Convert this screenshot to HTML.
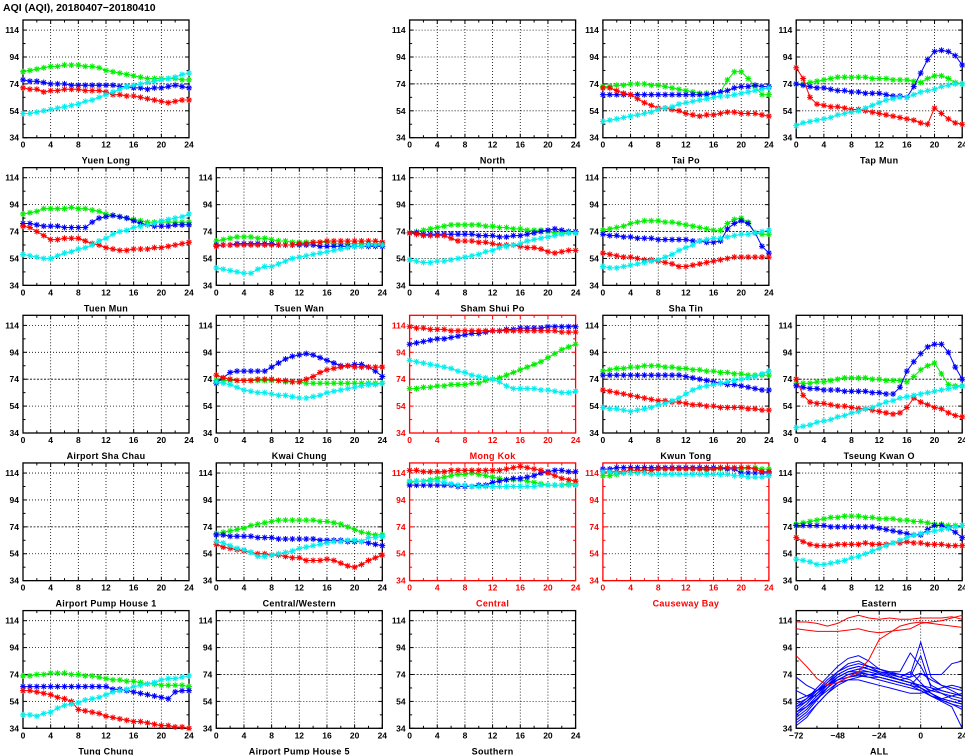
<!DOCTYPE html>
<html><head><meta charset="utf-8"><style>
html,body{margin:0;padding:0;background:#fff;}
svg{display:block;font-family:"Liberation Sans",sans-serif;font-weight:bold;}
</style></head><body>
<svg id="chart" width="965" height="755" viewBox="0 0 965 755" xmlns="http://www.w3.org/2000/svg">
<text x="3" y="11" font-size="10.5">AQI (AQI), 20180407−20180410</text>
</svg>
<script>
const hours = [0,1,2,3,4,5,6,7,8,9,10,11,12,13,14,15,16,17,18,19,20,21,22,23,24];
const yTicks = [34,54,74,94,114];
const xTicks = [0,4,8,12,16,20,24];
const allXTicks = [-72,-48,-24,0,24];
const allHours = [-72,-66,-60,-54,-48,-42,-36,-30,-24,-18,-12,-6,0,6,12,18,24];

const yuenLongGreen=[83,84,85,86,87,87,88,88,88,87,87,86,84,83,82,81,80,79,78,78,78,78,78,77,77];
const yuenLongBlue=[77,76,76,75,74,74,74,73,73,73,73,73,73,73,72,72,71,71,70,71,71,72,73,72,71];
const yuenLongRed=[71,70,70,68,69,69,70,70,70,69,69,69,68,66,66,65,65,64,63,62,61,60,61,62,62];
const yuenLongCyan=[52,52,53,54,55,56,57,58,59,61,62,64,66,68,70,72,73,74,75,76,77,78,79,81,82];

const taiPoGreen=[72,72,73,73,74,74,74,73,73,72,71,70,69,68,67,67,67,68,77,83,83,78,72,66,66];
const taiPoBlue=[66,66,66,66,66,66,66,66,66,66,66,66,66,66,66,66,67,68,69,71,72,72,73,72,72];
const taiPoRed=[71,71,69,67,66,63,60,58,56,56,55,54,52,51,50,51,51,52,53,53,52,52,52,51,50];
const taiPoCyan=[46,47,48,49,50,51,52,53,55,56,57,59,60,61,62,63,64,65,65,66,67,68,69,70,71];

const tapMunGreen=[74,74,75,76,77,78,79,79,79,79,79,78,78,78,77,77,77,76,75,78,80,80,78,75,74];
const tapMunBlue=[74,73,72,71,71,70,69,69,68,68,67,67,67,66,65,65,64,72,82,92,98,99,98,95,88];
const tapMunRed=[86,78,64,59,58,57,57,56,55,55,54,53,52,51,50,49,48,47,45,44,56,52,48,45,44];
const tapMunCyan=[43,45,46,47,48,49,51,52,53,54,56,58,60,62,63,64,64,66,68,69,70,72,73,74,74];

const tuenMunGreen=[87,88,89,91,91,91,91,92,91,91,90,89,87,86,85,84,83,82,81,81,81,81,81,81,81];
const tuenMunBlue=[80,80,79,78,78,78,77,77,77,77,81,84,85,86,85,84,82,80,79,78,78,78,79,79,79];
const tuenMunRed=[78,77,74,71,68,68,69,69,69,67,65,64,62,61,60,60,61,61,61,62,62,63,64,65,66];
const tuenMunCyan=[57,56,55,54,54,56,58,59,61,62,64,67,69,72,74,75,77,78,79,80,82,83,84,85,87];

const tsuenWanGreen=[67,68,69,70,70,70,69,69,68,67,67,66,66,66,66,66,66,65,65,65,65,65,65,65,65];
const tsuenWanBlue=[64,64,64,65,65,65,65,65,65,64,64,64,64,64,64,63,63,63,63,63,63,63,63,63,63];
const tsuenWanRed=[63,64,64,64,64,64,64,64,64,64,64,64,65,65,66,66,67,67,67,67,67,67,67,67,66];
const tsuenWanCyan=[47,46,45,44,43,43,46,48,48,50,52,54,55,56,57,58,59,60,61,62,63,63,64,64,64];

const shamShuiPoGreen=[73,74,75,76,77,78,79,79,79,79,79,78,78,77,77,76,76,75,75,75,74,73,73,73,73];
const shamShuiPoBlue=[73,73,72,72,72,72,72,72,72,72,71,71,71,70,70,71,71,72,73,74,75,76,75,74,74];
const shamShuiPoRed=[73,72,71,71,71,71,69,67,67,67,66,66,65,64,64,64,63,62,62,61,59,58,59,60,60];
const shamShuiPoCyan=[53,52,51,51,52,52,53,54,55,56,57,59,60,62,63,64,65,67,68,69,70,71,72,73,73];

const shaTinGreen=[75,76,77,78,80,81,82,82,82,81,81,80,79,78,77,76,75,75,80,83,84,81,73,72,72];
const shaTinBlue=[72,71,71,70,70,69,69,69,68,68,68,68,68,67,67,66,66,67,76,80,82,80,73,63,58];
const shaTinRed=[58,57,56,55,55,54,53,53,52,51,50,48,48,49,50,51,52,53,54,55,55,55,55,55,55];
const shaTinCyan=[48,47,47,48,49,50,51,52,53,55,57,60,62,64,67,68,69,69,70,71,72,72,73,74,75];

const kwaiChungGreen=[73,73,73,73,73,73,73,73,73,73,72,72,72,71,71,71,71,71,71,71,71,71,71,71,71];
const kwaiChungBlue=[71,75,79,80,80,80,80,80,83,86,89,91,92,93,92,90,88,86,84,84,85,85,83,80,76];
const kwaiChungRed=[77,75,74,73,73,73,74,74,74,73,73,72,72,74,76,79,81,82,83,84,83,83,83,83,83];
const kwaiChungCyan=[72,71,70,68,66,65,64,64,63,62,62,61,60,60,61,62,64,65,66,67,68,69,70,70,71];

const mongKokGreen=[67,67,68,68,69,69,70,70,70,71,71,73,74,75,77,79,81,83,85,87,90,93,96,98,100];
const mongKokBlue=[100,101,102,103,104,104,105,106,107,108,108,109,110,110,111,111,112,112,112,112,113,113,113,113,113];
const mongKokRed=[113,112,112,111,111,111,110,110,110,110,110,110,110,110,110,110,110,110,110,110,110,110,109,109,109];
const mongKokCyan=[88,87,86,85,84,83,82,80,79,77,76,75,74,72,69,67,67,67,67,66,66,65,64,64,65];

const kwunTongGreen=[80,81,82,82,83,83,84,84,84,83,83,82,82,81,81,80,80,79,79,78,78,77,77,77,77];
const kwunTongBlue=[77,77,77,77,77,77,77,77,77,77,77,77,76,75,74,73,72,71,70,70,69,68,67,66,66];
const kwunTongRed=[66,65,64,63,62,61,60,59,58,58,57,57,56,55,55,54,54,53,53,53,53,52,52,51,51];
const kwunTongCyan=[53,52,52,51,50,51,52,53,55,56,58,60,63,66,68,69,70,71,72,73,74,75,76,78,80];

const tkoGreen=[71,71,71,72,72,73,74,75,75,75,75,74,74,73,73,73,72,76,81,84,86,78,70,69,69];
const tkoBlue=[69,68,67,67,66,66,66,65,65,65,65,64,64,63,63,68,80,87,93,98,100,100,94,83,74];
const tkoRed=[74,62,57,56,56,55,54,54,53,52,52,51,50,49,48,49,53,60,57,55,53,52,49,47,46];
const tkoCyan=[38,39,40,42,43,44,46,47,49,50,52,53,55,57,58,60,61,62,63,64,65,66,67,68,69];

const centralWesternGreen=[69,70,71,72,73,75,76,77,78,79,79,79,79,79,79,78,78,77,76,74,72,70,69,68,68];
const centralWesternBlue=[68,68,67,67,67,67,66,66,66,65,65,65,65,65,65,64,64,64,64,63,63,63,62,61,60];
const centralWesternRed=[61,59,58,57,56,55,54,54,53,53,52,51,51,49,49,49,50,49,47,45,44,46,49,51,53];
const centralWesternCyan=[63,62,60,58,57,55,52,52,53,54,55,56,58,59,60,61,62,63,63,64,64,63,66,66,67];

const centralGreen=[107,108,108,109,110,111,112,113,113,114,113,112,111,110,109,109,109,108,107,106,105,105,105,106,106];
const centralBlue=[105,105,105,105,105,105,105,104,104,104,105,105,107,108,109,110,110,111,112,114,115,116,116,115,115];
const centralRed=[116,116,115,115,115,115,116,116,116,116,116,116,116,116,117,118,119,118,117,116,114,112,110,109,108];
const centralCyan=[108,108,108,108,108,107,106,105,105,104,104,104,104,104,104,104,104,104,104,105,105,105,105,105,105];

const causewayBayGreen=[112,112,113,114,114,115,116,116,117,117,117,117,117,117,117,116,117,117,117,117,117,118,118,117,117];
const causewayBayBlue=[117,117,118,118,118,118,118,118,118,118,118,118,118,118,118,118,118,118,117,117,114,114,114,114,114];
const causewayBayRed=[115,115,115,115,116,116,116,116,117,117,117,117,117,117,117,117,117,118,118,118,118,118,117,115,115];
const causewayBayCyan=[115,115,114,114,114,114,114,113,113,113,113,113,113,113,113,113,113,113,113,112,112,111,111,111,112];

const easternGreen=[76,77,78,79,80,81,81,82,82,82,81,81,80,80,80,79,79,78,78,77,76,76,75,75,75];
const easternBlue=[75,75,75,75,75,74,74,74,74,74,74,74,73,72,71,70,69,68,68,72,75,75,73,70,66];
const easternRed=[66,63,61,60,60,60,61,61,61,61,62,61,61,61,62,62,63,62,62,61,61,61,60,60,60];
const easternCyan=[50,49,48,46,46,47,48,49,51,52,54,56,58,60,62,64,66,68,69,70,71,72,73,74,75];

const tungChungGreen=[73,73,74,74,75,75,75,74,74,73,73,72,71,70,70,69,69,68,67,67,66,66,66,66,65];
const tungChungBlue=[65,65,65,65,65,65,65,65,65,65,65,65,65,63,63,62,61,60,59,58,57,56,61,62,62];
const tungChungRed=[62,62,61,60,59,57,56,54,48,47,46,45,43,42,41,40,39,39,38,37,36,36,35,35,34];
const tungChungCyan=[44,44,43,45,46,49,51,52,53,55,56,57,59,61,62,63,65,66,67,68,70,71,71,72,73];

const allRed1=[88,80,71,66,68,72,76,85,100,105,110,112,113,112,111,110,109];
const allRed2=[113,113,112,110,112,116,118,116,115,116,115,115,116,116,116,117,115];
const allRed3=[108,107,106,106,106,107,108,106,105,106,107,108,112,113,114,116,118];
const allBlue1=[50,56,64,72,80,86,88,84,78,75,72,70,64,58,55,52,50];
const allBlue2=[46,52,60,68,76,82,84,80,76,74,72,76,68,60,56,54,52];
const allBlue3=[44,50,58,66,74,78,80,78,75,73,70,72,75,70,66,64,62];
const allBlue4=[40,46,55,64,72,76,78,76,74,72,70,68,66,62,60,58,56];
const allBlue5=[36,42,52,60,68,72,74,72,70,68,66,64,62,58,54,50,34];
const allBlue6=[52,56,62,68,74,78,80,78,76,75,74,74,98,72,66,62,58];
const allBlue7=[48,54,62,70,76,80,82,80,78,76,76,90,80,66,62,60,58];
const allBlue8=[72,66,62,66,72,76,76,74,72,70,68,66,74,74,74,82,84];
const allBlue9=[62,58,58,64,70,74,75,74,74,72,70,68,66,64,62,60,58];
const allBlue10=[55,58,62,66,70,72,73,72,72,70,68,66,64,60,55,52,48];
const allBlue11=[42,48,56,64,70,74,76,76,74,72,70,68,64,60,56,54,52];
const allBlue12=[50,54,60,66,72,76,78,80,78,76,74,72,88,64,60,56,54];
const allBlue13=[38,44,52,60,66,70,70,68,66,64,62,60,60,62,64,66,64];
const allBlue14=[46,50,56,62,68,70,72,74,72,70,68,66,62,58,56,58,60];

const NS="http://www.w3.org/2000/svg";
const svg=document.getElementById('chart');
const COLORS={green:'#00ee00',blue:'#0000ff',red:'#ff0000',cyan:'#00eeee'};
const Y_MIN=34, Y_MAX=121.5;

function mk(tag,attrs,parent){const e=document.createElementNS(NS,tag);for(const k in attrs)e.setAttribute(k,attrs[k]);(parent||svg).appendChild(e);return e;}

function panelRect(col,row){return {x:23+col*193.3,y:20+row*147.65,w:166,h:117.7};}

function drawAxes(g,r,xMin,xMax,ticks,minorStep,redFrame,title){
  const col=redFrame?'#ff0000':'#000';
  const sx=v=>r.x+(v-xMin)/(xMax-xMin)*r.w;
  const sy=v=>r.y+r.h-(v-Y_MIN)/(Y_MAX-Y_MIN)*r.h;
  // grid
  ticks.forEach(t=>{ if(t>xMin&&t<xMax){
    const gl=mk('line',{x1:sx(t),x2:sx(t),y1:r.y,y2:r.y+r.h,stroke:'#000','stroke-width':0.8,'stroke-dasharray':'1,2'},g);
    
    
  }});
  yTicks.forEach(t=>{ if(t>Y_MIN){
    const gl=mk('line',{x1:r.x,x2:r.x+r.w,y1:sy(t),y2:sy(t),stroke:'#000','stroke-width':0.8,'stroke-dasharray':t===74?'2,1.5':'1,2'},g);
    
    
  }});
  // minor ticks
  for(let v=xMin;v<=xMax;v+=minorStep){
    const len=ticks.includes(v)?4:2.5;
    mk('line',{x1:sx(v),x2:sx(v),y1:r.y+r.h,y2:r.y+r.h-len,stroke:col,'stroke-width':1},g);
    mk('line',{x1:sx(v),x2:sx(v),y1:r.y,y2:r.y+len,stroke:col,'stroke-width':1},g);
  }
  for(let v=34;v<=114;v+=10){
    const len=(v-34)%20===0?4:2.5;
    mk('line',{x1:r.x,x2:r.x+len,y1:sy(v),y2:sy(v),stroke:col,'stroke-width':1},g);
    mk('line',{x1:r.x+r.w,x2:r.x+r.w-len,y1:sy(v),y2:sy(v),stroke:col,'stroke-width':1},g);
  }
  const fr=mk('rect',{x:r.x,y:r.y,width:r.w,height:r.h,fill:'none',stroke:col,'stroke-width':1.3},g);
  
  
  yTicks.forEach(t=>{
    const tl=mk('text',{x:r.x-4,y:sy(t)+3,'text-anchor':'end','font-size':8.5,fill:col},g);
    tl.textContent=t;
    
    
  });
  ticks.forEach(t=>{
    const tl=mk('text',{x:sx(t),y:r.y+r.h+10,'text-anchor':'middle','font-size':8.5,fill:col},g);
    tl.textContent=(t<0?'−'+(-t):t);
    
    
  });
  const tt=mk('text',{x:r.x+r.w/2,y:r.y+r.h+26,'text-anchor':'middle','font-size':9,fill:col,'letter-spacing':'0.3'},g);
  tt.textContent=title;
  
  
  return {sx,sy};
}

function drawSeries(g,sx,sy,xs,vals,color,name,markers){
  const pts=xs.map((x,i)=>sx(x).toFixed(1)+','+sy(vals[i]).toFixed(1)).join(' ');
  const pl=mk('polyline',{points:pts,fill:'none',stroke:color,'stroke-width':1},g);
  
  
  if(!markers)return;
  let d='';
  xs.forEach((x,i)=>{const px=sx(x),py=sy(vals[i]),s=3;
    d+=`M${px-s},${py}h${2*s}M${px},${py-s}v${2*s}M${px-2.2},${py-2.2}l4.4,4.4M${px-2.2},${py+2.2}l4.4,-4.4`;});
  const m=mk('path',{d:d,stroke:color,'stroke-width':1,fill:'none'},g);
  
  
}

const stations=[
  {c:0,r:0,t:'Yuen Long',s:[yuenLongGreen,yuenLongBlue,yuenLongRed,yuenLongCyan]},
  {c:2,r:0,t:'North',s:null},
  {c:3,r:0,t:'Tai Po',s:[taiPoGreen,taiPoBlue,taiPoRed,taiPoCyan]},
  {c:4,r:0,t:'Tap Mun',s:[tapMunGreen,tapMunBlue,tapMunRed,tapMunCyan]},
  {c:0,r:1,t:'Tuen Mun',s:[tuenMunGreen,tuenMunBlue,tuenMunRed,tuenMunCyan]},
  {c:1,r:1,t:'Tsuen Wan',s:[tsuenWanGreen,tsuenWanBlue,tsuenWanRed,tsuenWanCyan]},
  {c:2,r:1,t:'Sham Shui Po',s:[shamShuiPoGreen,shamShuiPoBlue,shamShuiPoRed,shamShuiPoCyan]},
  {c:3,r:1,t:'Sha Tin',s:[shaTinGreen,shaTinBlue,shaTinRed,shaTinCyan]},
  {c:0,r:2,t:'Airport Sha Chau',s:null},
  {c:1,r:2,t:'Kwai Chung',s:[kwaiChungGreen,kwaiChungBlue,kwaiChungRed,kwaiChungCyan]},
  {c:2,r:2,t:'Mong Kok',red:true,s:[mongKokGreen,mongKokBlue,mongKokRed,mongKokCyan]},
  {c:3,r:2,t:'Kwun Tong',s:[kwunTongGreen,kwunTongBlue,kwunTongRed,kwunTongCyan]},
  {c:4,r:2,t:'Tseung Kwan O',s:[tkoGreen,tkoBlue,tkoRed,tkoCyan]},
  {c:0,r:3,t:'Airport Pump House 1',s:null},
  {c:1,r:3,t:'Central/Western',s:[centralWesternGreen,centralWesternBlue,centralWesternRed,centralWesternCyan]},
  {c:2,r:3,t:'Central',red:true,s:[centralGreen,centralBlue,centralRed,centralCyan]},
  {c:3,r:3,t:'Causeway Bay',red:true,s:[causewayBayGreen,causewayBayBlue,causewayBayRed,causewayBayCyan]},
  {c:4,r:3,t:'Eastern',s:[easternGreen,easternBlue,easternRed,easternCyan]},
  {c:0,r:4,t:'Tung Chung',s:[tungChungGreen,tungChungBlue,tungChungRed,tungChungCyan]},
  {c:1,r:4,t:'Airport Pump House 5',s:null},
  {c:2,r:4,t:'Southern',s:null}
];
const seriesKeys=['green','blue','red','cyan'];

stations.forEach(st=>{
  const g=mk('g',{});
  
  
  const r=panelRect(st.c,st.r);
  const ax=drawAxes(g,r,0,24,xTicks,2,!!st.red,st.t);
  if(st.s){st.s.forEach((vals,i)=>drawSeries(g,ax.sx,ax.sy,hours,vals,COLORS[seriesKeys[i]],'series-'+seriesKeys[i],true));}
});

// ALL panel
(function(){
  const g=mk('g',{});
  
  
  const r=panelRect(4,4);
  const ax=drawAxes(g,r,-72,24,allXTicks,12,false,'ALL');
  const blues=[allBlue1,allBlue2,allBlue3,allBlue4,allBlue5,allBlue6,allBlue7,allBlue8,allBlue9,allBlue10,allBlue11,allBlue12,allBlue13,allBlue14];
  blues.forEach(v=>drawSeries(g,ax.sx,ax.sy,allHours,v,'#0000ff','all-station-blue',false));
  [allRed1,allRed2,allRed3].forEach(v=>drawSeries(g,ax.sx,ax.sy,allHours,v,'#ff0000','all-station-red',false));
})();
</script>
</body></html>
